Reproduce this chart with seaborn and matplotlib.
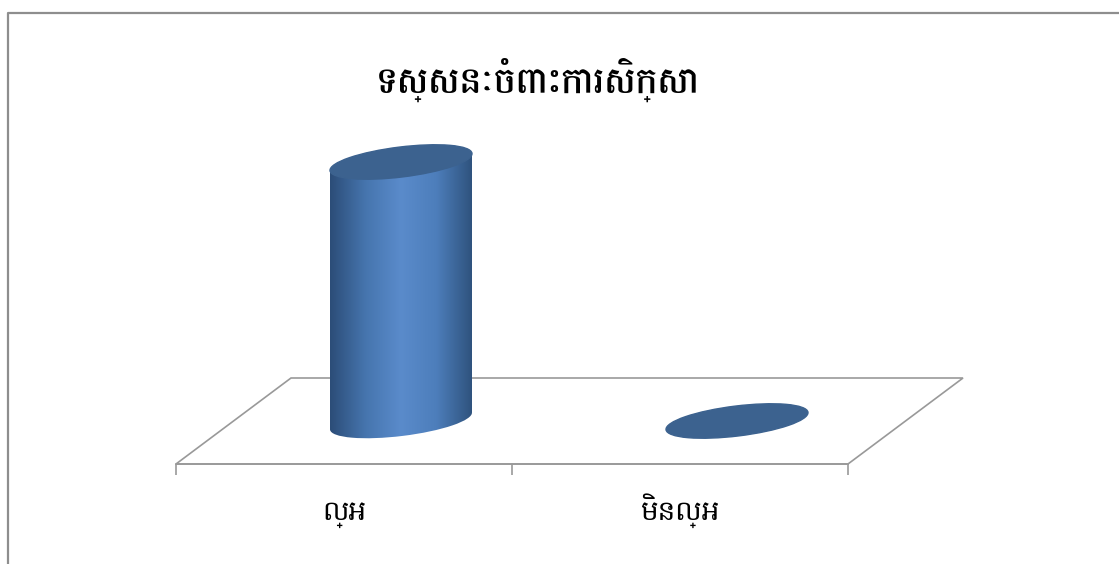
import numpy as np
import pandas as pd
import matplotlib
matplotlib.use("Agg")
import matplotlib.pyplot as plt
import seaborn as sns
from matplotlib.colors import LinearSegmentedColormap
from matplotlib.lines import Line2D
from matplotlib.patches import Ellipse, Polygon
from matplotlib.transforms import IdentityTransform

categories = ["ល្អ", "មិនល្អ"]
values = [100, 0]
chart_title = "ទស្សនៈចំពោះការសិក្សា"

sns.set_theme(style="white")
plt.rcParams['font.family'] = ['Hanuman', 'DejaVu Sans']

W, H = 1119, 564
fig = plt.figure(figsize=(W / 100, H / 100), dpi=100)
ax = fig.add_axes([176 / W, 1 - 464 / H, (848 - 176) / W, (464 - 150) / H])
ax.patch.set_alpha(0)

df = pd.DataFrame({"cat": categories, "val": values})
sns.barplot(data=df, x="cat", y="val", ax=ax, color="#4F81BD", width=0.42, zorder=3)

# category 0 sits at 401 px, the floor is skewed so ticks are offset from the bars
xlim = ((176 - 401) / 336, (848 - 401) / 336)
ylim = (-43 / 2.59, 271 / 2.59)
ax.set_xlim(xlim)
ax.set_ylim(ylim)
ax.set_xlabel("")
ax.set_ylabel("")
ax.set_yticks([])
ax.set_xticks([xlim[0], xlim[0] + 1, xlim[0] + 2])
ax.set_xticklabels([])
ax.tick_params(axis="x", length=8, width=1.2, color="#999999", bottom=True)
ax.set_xticks([xlim[0] + 0.5, xlim[0] + 1.5], labels=categories, minor=True)
ax.tick_params(axis="x", which="minor", length=0, pad=40, labelsize=20, labelcolor="black")
for lab in ax.get_xticklabels(minor=True):
    lab.set_va("baseline")
sns.despine(ax=ax, left=True)
ax.spines["bottom"].set_color("#999999")
ax.spines["bottom"].set_linewidth(1.2)

# floor of the 3d chart
floor = Polygon([(176, H - 464), (291, H - 378), (963, H - 378), (848, H - 464)],
                closed=True, fill=False, edgecolor="#999999", linewidth=1.2,
                transform=IdentityTransform(), clip_on=False, zorder=1)
ax.add_patch(floor)

side = LinearSegmentedColormap.from_list(
    "side", ["#2C4D78", "#4675AE", "#5A8BCB", "#4D7EBB", "#2F537E"])
top_color = "#3C628F"
ew, eh, tilt = 143, 30, 7
lift = ew / 2 * np.sin(np.radians(tilt))
for bar, v in zip(list(ax.patches)[:2], values):
    x = bar.get_x()
    w = bar.get_width()
    cx, y0 = ax.transData.transform((x + w / 2, 0))
    _, y1 = ax.transData.transform((x + w / 2, v))
    if v > 0:
        # body runs between the ends of the two tilted ellipses
        left, right = cx - ew / 2, cx + ew / 2
        body = Polygon([(left, y1 - lift), (right, y1 + lift), (right, y0 + lift), (left, y0 - lift)],
                       closed=True, transform=IdentityTransform())
        low = Ellipse((cx, y0), ew, eh, angle=tilt, transform=IdentityTransform())
        for clip in (body, low):
            img = ax.imshow(np.linspace(0, 1, 256)[None, :], cmap=side, aspect="auto",
                            extent=(x, x + w, -10, v + 5), zorder=3.5)
            img.set_clip_path(clip)
            img.set_clip_on(True)
    bar.set_visible(False)
    ax.add_patch(Ellipse((cx, y1), ew, eh, angle=tilt, color=top_color, clip_on=False,
                         transform=IdentityTransform(), zorder=4))
ax.set_xlim(xlim)
ax.set_ylim(ylim)

# outer frame of the chart, only left and top are in view
fig.add_artist(Line2D([7.5 / W, 7.5 / W, 1], [0, 1 - 12.5 / H, 1 - 12.5 / H],
                      color="#8E8E8E", linewidth=1.6))

fig.text(538 / W, 1 - 80 / H, chart_title, ha="center", va="center", fontsize=23,
         color="black", family=['Odor Mean Chey', 'DejaVu Sans'])
fig.savefig("out.png", dpi=100)
